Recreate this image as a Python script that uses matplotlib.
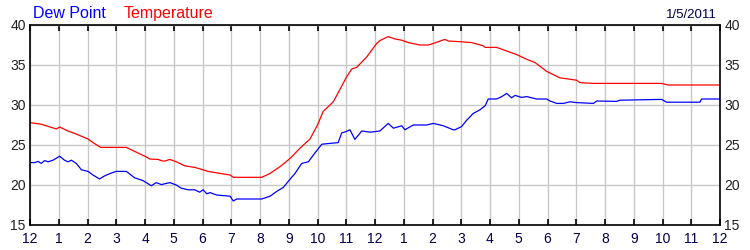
"""
Daily weather trace — dew point and temperature over 24 hours.
"""

import matplotlib
matplotlib.use("Agg")
import matplotlib.pyplot as plt

# hours since midnight
temp_hours = [0.0, 0.39, 0.92, 1.03, 1.32, 1.55, 2.02, 2.19, 2.46, 3.35, 3.64,
              4.05, 4.16, 4.45, 4.6, 4.7, 4.86, 5.09, 5.38, 5.73, 6.02, 6.19,
              6.61, 6.96, 7.07, 8.06, 8.35, 8.7, 9.04, 9.39, 9.51, 9.74, 10.0,
              10.2, 10.55, 11.01, 11.19, 11.36, 11.71, 12.06, 12.17, 12.46,
              12.7, 12.93, 13.16, 13.57, 13.86, 14.03, 14.43, 14.55, 15.01,
              15.36, 15.77, 15.83, 16.23, 16.58, 16.93, 17.22, 17.57, 17.97,
              18.43, 19.01, 19.13, 19.6, 21.97, 22.2, 24.0]
temp_vals = [27.8, 27.6, 27.0, 27.25, 26.75, 26.45, 25.75, 25.3, 24.7, 24.7,
             24.2, 23.5, 23.25, 23.2, 23.0, 23.0, 23.2, 22.9, 22.4, 22.2, 21.9,
             21.7, 21.45, 21.25, 20.96, 20.96, 21.45, 22.3, 23.3, 24.6, 25.0,
             25.75, 27.5, 29.2, 30.4, 33.5, 34.5, 34.7, 36.0, 37.7, 38.05,
             38.55, 38.25, 38.1, 37.8, 37.5, 37.5, 37.7, 38.2, 38.0, 37.9,
             37.8, 37.4, 37.2, 37.2, 36.75, 36.3, 35.8, 35.3, 34.2, 33.4, 33.1,
             32.8, 32.7, 32.7, 32.5, 32.5]

dew_hours = [0.0, 0.16, 0.28, 0.39, 0.51, 0.63, 0.8, 1.03, 1.2, 1.32, 1.44,
             1.61, 1.79, 2.02, 2.19, 2.42, 2.6, 2.83, 3.0, 3.35, 3.64, 3.93,
             4.22, 4.39, 4.57, 4.86, 5.09, 5.26, 5.5, 5.73, 5.9, 6.02, 6.15,
             6.26, 6.49, 6.96, 7.07, 7.19, 8.06, 8.35, 8.58, 8.81, 9.04, 9.22,
             9.45, 9.68, 9.91, 10.15, 10.43, 10.72, 10.84, 11.01, 11.13, 11.3,
             11.54, 11.83, 12.17, 12.46, 12.64, 12.93, 13.04, 13.33, 13.8,
             14.03, 14.38, 14.72, 14.78, 15.01, 15.19, 15.42, 15.65, 15.83,
             15.94, 16.23, 16.41, 16.58, 16.75, 16.87, 17.1, 17.28, 17.62,
             17.97, 18.09, 18.32, 18.55, 18.78, 19.01, 19.6, 19.71, 20.4,
             20.52, 21.97, 22.14, 23.3, 23.36, 24.0]
dew_vals = [22.8, 22.8, 22.95, 22.7, 23.05, 22.9, 23.1, 23.6, 23.1, 22.9, 23.1,
            22.7, 21.9, 21.7, 21.25, 20.75, 21.15, 21.5, 21.7, 21.7, 20.9,
            20.55, 19.9, 20.3, 20.05, 20.3, 20.0, 19.6, 19.4, 19.4, 19.1, 19.4,
            18.9, 19.05, 18.75, 18.6, 18.0, 18.25, 18.25, 18.6, 19.2, 19.7,
            20.7, 21.45, 22.7, 22.9, 24.0, 25.1, 25.2, 25.3, 26.5, 26.7, 26.9,
            25.7, 26.75, 26.6, 26.75, 27.7, 27.1, 27.4, 26.9, 27.5, 27.5, 27.7,
            27.4, 26.9, 26.9, 27.3, 28.1, 28.95, 29.4, 29.9, 30.75, 30.75,
            31.05, 31.45, 30.9, 31.2, 30.95, 31.05, 30.75, 30.75, 30.5, 30.2,
            30.2, 30.4, 30.3, 30.2, 30.5, 30.45, 30.6, 30.7, 30.35, 30.35,
            30.75, 30.75]

hour_ticks = list(range(25))
hour_labels = ["12"] + [str(h) for h in range(1, 12)] + ["12"] + \
              [str(h) for h in range(1, 12)] + ["12"]
temp_ticks = [15, 20, 25, 30, 35, 40]
date_label = "1/5/2011"

plt.rcParams["font.family"] = ["Liberation Sans", "DejaVu Sans"]

fig = plt.figure(figsize=(7.5, 2.5), dpi=100)
ax = fig.add_axes([30 / 750, 25 / 250, 690 / 750, 200 / 250])

ax.plot(temp_hours, temp_vals, color="#ff0000", linewidth=0.9)
ax.plot(dew_hours, dew_vals, color="#0000ff", linewidth=0.9)

ax.set_xlim(0, 24)
ax.set_ylim(15, 40)
ax.set_xticks(hour_ticks)
ax.set_xticklabels(hour_labels)
ax.set_yticks(temp_ticks)
ax.grid(True, color="#c8c8c8", linewidth=1.0)
ax.set_axisbelow(True)

ax.tick_params(axis="x", direction="in", length=4, width=1.2, top=True,
               labelsize=10, labelcolor="#000050", pad=5)
ax.tick_params(axis="y", length=0, labelsize=10, labelcolor="#202020",
               left=True, right=True, labelleft=True, labelright=True, pad=3)
for spine in ax.spines.values():
    spine.set_linewidth(1.2)
    spine.set_color("black")

# legend-style header text
fig.text(33 / 750, 1 - 18 / 250, "Dew Point", color="#0000ff", fontsize=11.5)
fig.text(124 / 750, 1 - 18 / 250, "Temperature", color="#ff0000", fontsize=11.5)
fig.text(717 / 750, 1 - 18 / 250, date_label, color="#000050", fontsize=9.5,
         ha="right")

fig.savefig("out.png", dpi=100)
